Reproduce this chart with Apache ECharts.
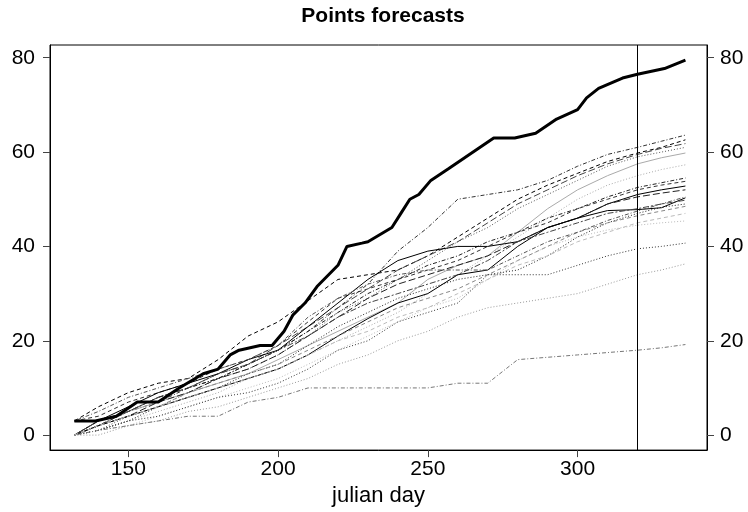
<!DOCTYPE html>
<html>
<head>
<meta charset="utf-8">
<script src="https://cdn.jsdelivr.net/npm/echarts@6/dist/echarts.min.js"></script>
<style>
html,body{margin:0;padding:0;background:#fff;}
#chart{width:748px;height:512px;}
</style>
</head>
<body>
<div id="chart"></div>
<script>
// Actual points (thick line)
const actualDays = [132,139,146,153,160,167,175,180,184,187,194,198,202,205,209,213,220,223,228,230,238,241,244,247,251,257,272,279,286,293,300,303,307,315,320,329,336];
const actualPoints = [3,3,4,7,7,10,13,14,17,18,19,19,22,25.5,28,31.5,36,40,40.7,41,44,47,50,51,54,56.5,63,63,64,67,69,71.5,73.5,75.7,76.5,77.7,79.5];

// Forecast grid days
const forecastDays = [132,140,150,160,170,180,190,200,210,220,230,240,250,260,270,280,290,300,310,320,328,336];

const fc01 = [0,3,5,7,10,12,15,18,22,27,32,39,44,50,51,52,54,57,59.5,61,62.3,63.6];
const fc02 = [3,6,9,11,12,16,21,24,28.5,33,34,35,38,42,46,50,53,55.5,58,59.8,61,62.6];
const fc03 = [0,2,5,8,10,13,15,19,23,27,31,35,38,41,45,49,52,55,57.5,59.5,60.8,61.8];
const fc04 = [0,1,4,6,9,12,14,17,21,26,29,33,37,41,44,48,51,54,57,59,60,61];
const fc05 = [0,2,5,7,9,11,13,16,19,22,25,28,33,36,38,43,48,52,55,57.5,58.8,59.8];
const fc06 = [0,1,3,5,7,9,12,14,17,20,23,26,30,34,38,42,46,50,53,55,56.3,57.3];
const fc07 = [0,2,5,8,10,12,15,18,22,26,30,33,36,38,41,43,46,48,50.5,52.5,53.5,54.5];
const fc08 = [3,4,7,9,11,14,16,19,24,29,31,33,35,37,40,43,45,48,50,52,53,53.8];
const fc09 = [0,3,6,9,11,13,16,18,23,28,33,37,39,40,40,41,44,46,49,51,52,52.8];
const fc10 = [0,2,4,7,9,12,14,17,21,25,29,32,34,36,38,41,44,46,49,50.5,51.3,52];
const fc11 = [0,2,4,6,8,10,12,14,17,21,24.7,28,30,34,35,40,44,46,47.6,47.8,48.2,50.3];
const fc12 = [0,3,5,8,10,13,15,18,21,25,28,30,32,34,37,41,43,45,47,48,49,49.8];
const fc13 = [0,1,3,6,8,10,13,15,19,23,26,29,31,33,34,35,38,42,45,47,48.3,49];
const fc14 = [0,2,4,6,9,11,13,15,18,21,24,27,29,31,34,37,40,43,45,46.5,47.5,48.5];
const fc15 = [0,1,2,4,6,8,10,12,15,18,21,24,27,29,33,37,40,42,43.5,44.5,45,45.4];
const fc16 = [0,1,3,4,6,8,9,11,14,18,20,24,26,28,34,34,34,36,38,39.5,40,40.7];
const fc17 = [0,0,2,3,5,6,8,10,12,15,17,20,22,25,27,28,29,30,32,34,35,36.3];
const fc18 = [0,1,2,3,4,4,7,8,10,10,10,10,10,11,11,16,16.5,17,17.5,18,18.5,19.2];
const fc19 = [0,2,4,6,8,10,12,14,17,20,22,25,27,30,33,36,38,41,43,45,46,47];
const fc20 = [3,5,8,10,12,14,16,19,25,29,32,34,35,35,35,38,41,43,45.5,47.5,49,50.5];

const yTicks = [0,20,40,60,80];
const xTicks = [150,200,250,300];
const cutoffDay = 320;

// styles (kept separate from data)
const dash = [4,3], dot = [1,2], dotdash = [1,2,4,2], longdash = [7,3], twodash = [2,2,6,2];
const forecastSeries = [
  [fc01,'#333',dotdash],[fc02,'#000',dash],[fc03,'#444',longdash],[fc04,'#555',dot],
  [fc05,'#aaa','solid'],[fc06,'#aaa',dot],[fc07,'#222',dotdash],[fc08,'#333',dash],
  [fc09,'#000','solid'],[fc10,'#222',longdash],[fc11,'#000','solid'],[fc12,'#444',twodash],
  [fc13,'#222',dot],[fc14,'#888',dash],[fc15,'#bbb',dot],[fc16,'#333',dot],
  [fc17,'#999',dot],[fc18,'#777',dotdash],[fc19,'#bbb',dash],[fc20,'#555',dotdash]
];

const FONT = 'Liberation Sans, Arial, Helvetica, sans-serif';
const chart = echarts.init(document.getElementById('chart'), null, {renderer:'canvas'});

const series = forecastSeries.map(([vals,color,type]) => ({
  type:'line',
  data: forecastDays.map((d,i)=>[d, vals[i]]),
  showSymbol:false, silent:true, animation:false,
  lineStyle:{color:color, width:1, type:type},
  z:2
}));
series.push({
  type:'line',
  data: actualDays.map((d,i)=>[d, actualPoints[i]]),
  showSymbol:false, silent:true, animation:false,
  lineStyle:{color:'#000', width:3},
  z:5,
  markLine:{
    silent:true, symbol:['none','none'], label:{show:false},
    lineStyle:{color:'#000', width:1, type:'solid'},
    data:[{xAxis:cutoffDay}]
  }
});

const yAxisBase = (pos) => ({
  type:'value', position:pos, min:-3.18, max:82.7,
  splitLine:{show:false},
  axisLine:{show:true, onZero:false, lineStyle:{color:'#000'}},
  axisTick:{show:true, customValues:yTicks, length:7, inside:false, lineStyle:{color:'#444'}},
  axisLabel:{show:true, customValues:yTicks, fontSize:21, color:'#000', fontFamily:FONT, margin: pos==='left'?15:13}
});

chart.setOption({
  animation:false,
  backgroundColor:'#fff',
  title:{
    text:'Points forecasts', left:383, top:6, padding:0, textAlign:'center',
    textStyle:{fontSize:21, fontWeight:'bold', color:'#000', fontFamily:FONT}
  },
  grid:{left:50, right:41, top:45, bottom:60, show:true, borderColor:'#000', borderWidth:1, backgroundColor:'transparent'},
  xAxis:{
    type:'value', min:123.86, max:343.2,
    name:'julian day', nameLocation:'middle', nameGap:31,
    nameTextStyle:{fontSize:22, color:'#000', fontFamily:FONT},
    splitLine:{show:false},
    axisLine:{show:true, onZero:false, lineStyle:{color:'#000'}},
    axisTick:{show:true, customValues:xTicks, length:7, lineStyle:{color:'#444'}},
    axisLabel:{show:true, customValues:xTicks, fontSize:21, color:'#000', fontFamily:FONT, margin:9}
  },
  yAxis:[yAxisBase('left'), yAxisBase('right')],
  series: series
});
</script>
</body>
</html>
